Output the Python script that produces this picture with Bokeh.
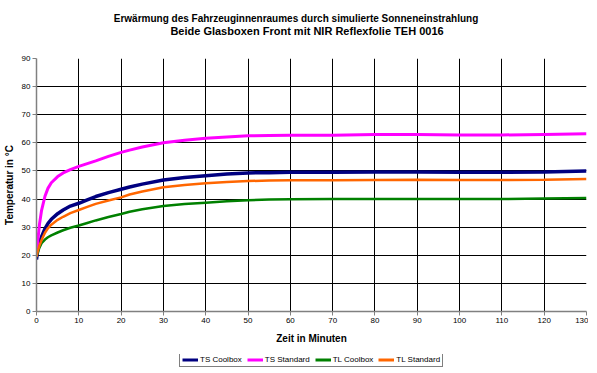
from bokeh.plotting import figure
from bokeh.models import Label, Legend, LegendItem, SingleIntervalTicker, Range1d
from bokeh.layouts import column
from bokeh.embed import file_html
from bokeh.resources import INLINE

# time in minutes
minutes = [0, 0.3, 0.7, 1.2, 2, 2.7, 3.5, 5, 6.3, 8, 10, 12, 14, 17, 20, 22, 25, 30,
           35, 40, 45, 50, 55, 60, 70, 80, 90, 100, 110, 120, 130]

ts_coolbox = [18.5, 22, 24.5, 26.6, 29.5, 31.3, 32.8, 34.8, 36.1, 37.5, 38.5, 39.7, 40.9,
              42.3, 43.5, 44.3, 45.3, 46.8, 47.7, 48.3, 48.9, 49.3, 49.4, 49.5, 49.5, 49.6,
              49.6, 49.5, 49.5, 49.6, 50.0]
ts_standard = [20, 25, 31, 36, 41, 43.8, 45.8, 48.0, 49.3, 50.5, 51.6, 52.6, 53.6, 55.2, 56.6,
               57.4, 58.5, 60.0, 60.9, 61.6, 62.1, 62.5, 62.6, 62.7, 62.7, 63.0, 63.0, 62.8,
               62.8, 63.0, 63.2]
tl_coolbox = [19.5, 21, 22.7, 24.3, 25.6, 26.4, 27.1, 28.1, 28.9, 29.8, 30.6, 31.5, 32.4,
              33.6, 34.7, 35.5, 36.4, 37.5, 38.2, 38.7, 39.2, 39.6, 39.8, 39.9, 40.0, 40.0,
              40.0, 40.0, 40.0, 40.2, 40.4]
tl_standard = [19.5, 21.5, 23.5, 25.4, 28, 29.6, 30.9, 32.6, 33.7, 35, 36.1, 37.2, 38.3, 39.5,
               40.6, 41.6, 42.7, 44.2, 45, 45.6, 46.1, 46.4, 46.6, 46.7, 46.7, 46.8, 46.9,
               46.8, 46.8, 46.9, 47.1]

series_names = ["TS Coolbox", "TS Standard", "TL Coolbox", "TL Standard"]
series_values = [ts_coolbox, ts_standard, tl_coolbox, tl_standard]
series_colors = ["#000080", "#FF00FF", "#008000", "#FF6600"]
series_widths = [3.5, 3, 2.5, 2.5]

title_line1 = "Erwärmung des Fahrzeuginnenraumes durch simulierte Sonneneinstrahlung"
title_line2 = "Beide Glasboxen Front mit NIR Reflexfolie TEH 0016"
x_label = "Zeit in Minuten"
y_label = "Temperatur in °C"

FONT = "Liberation Sans"
W = 581


def strip(height, xr, yr):
    s = figure(width=W, height=height, output_backend="svg", toolbar_location=None,
               x_range=xr, y_range=yr,
               min_border_left=0, min_border_right=0, min_border_top=0, min_border_bottom=0)
    s.axis.visible = False
    s.grid.visible = False
    s.outline_line_color = None
    s.background_fill_color = "white"
    s.border_fill_color = "white"
    return s


# ---- title strip (its frame is aligned with the chart frame, 29px from the left)
pt = strip(42, Range1d(0, 1), Range1d(0, 1))
pt.add_layout(Label(x=259.5, y=24, x_units="screen", y_units="screen", text=title_line1,
                    text_align="center", text_baseline="middle", text_font=FONT,
                    text_font_size="10px", text_font_style="bold", text_color="black"))
pt.add_layout(Label(x=270.5, y=12, x_units="screen", y_units="screen", text=title_line2,
                    text_align="center", text_baseline="middle", text_font=FONT,
                    text_font_size="11px", text_font_style="bold", text_color="black"))

# ---- main chart
p = figure(frame_width=550, frame_height=253, output_backend="svg", toolbar_location=None,
           x_range=Range1d(0, 130), y_range=Range1d(0, 90),
           min_border_left=29, min_border_right=2, min_border_top=16, min_border_bottom=43)
p.background_fill_color = "white"
p.border_fill_color = "white"
p.outline_line_color = None

for ax in (p.xaxis[0], p.yaxis[0]):
    ax.ticker = SingleIntervalTicker(interval=10)
    ax.axis_line_color = "#808080"
    ax.axis_line_width = 1.5
    ax.major_tick_line_color = "#808080"
    ax.major_tick_out = 4
    ax.major_tick_in = 0
    ax.minor_tick_out = 0
    ax.minor_tick_in = 0
    ax.major_label_text_font = FONT
    ax.major_label_text_font_size = "8px"
    ax.major_label_text_color = "black"
    ax.major_label_standoff = 2
    ax.axis_label_text_font = FONT
    ax.axis_label_text_font_size = "10px"
    ax.axis_label_text_font_style = "bold"
    ax.axis_label_text_color = "black"

p.xaxis.axis_label = x_label
p.yaxis.axis_label = y_label
p.xaxis.axis_label_standoff = 7
p.yaxis.axis_label_standoff = 4

for g in (p.xgrid[0], p.ygrid[0]):
    g.ticker = SingleIntervalTicker(interval=10)
    g.grid_line_color = "black"
    g.grid_line_width = 1

for vals, col, lw in zip(series_values, series_colors, series_widths):
    p.line(minutes, vals, line_color=col, line_width=lw)

# ---- legend strip: same series drawn out of view, only the legend shows
pl = strip(13, Range1d(1000, 1001), Range1d(1000, 1001))
items = []
for name, vals, col in zip(series_names, series_values, series_colors):
    r = pl.line(minutes, vals, line_color=col, line_width=3)
    items.append(LegendItem(label=name, renderers=[r]))
legend = Legend(items=items, orientation="horizontal", location=(143, 0),
                label_text_font=FONT, label_text_font_size="8px", label_text_color="black",
                border_line_color="black", border_line_width=1, background_fill_color="white",
                padding=2, spacing=5, margin=0, glyph_width=16, glyph_height=9,
                label_height=9, label_standoff=2)
pl.add_layout(legend, "center")

open("out.html", "w").write(file_html(column(pt, p, pl, spacing=0), INLINE))
